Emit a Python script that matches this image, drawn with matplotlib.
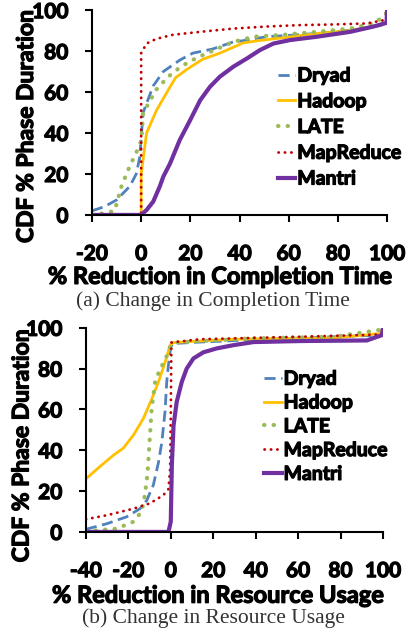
import matplotlib
matplotlib.use('Agg')
import matplotlib.pyplot as plt
import matplotlib.patheffects as pe

plt.rcParams['axes.unicode_minus'] = False

# (a) change in completion time
a_dryad_x = [-20, -15, -10, -4.6, -2, -0.6, 0.8, 4.9, 9, 15.7, 21, 29, 37.5, 41, 51, 64.6, 80, 90, 99.8, 100]
a_dryad_y = [2, 4, 7.3, 14, 20, 28, 50, 63, 70, 75.6, 79, 81, 84.5, 85, 87, 88, 89.5, 91, 93, 100]
a_hadoop_x = [-20, 0, 0, 2.2, 6.2, 11, 14, 18.5, 25, 32, 41.5, 47, 59, 71.5, 85, 97, 99.8, 100]
a_hadoop_y = [0, 0, 20, 40, 51, 61, 67, 71, 76, 79, 84, 85, 86.7, 88.6, 90, 92.7, 94, 100]
a_late_x = [-20, -14.2, -10.8, -8, -5.3, -2.6, -0.6, 0.1, 0.8, 2.8, 6, 11, 15.7, 19.8, 25, 30.7, 37.5, 45.6, 58, 71.4, 85, 94.5, 99.3, 100]
a_late_y = [0, 1, 2, 14, 22, 29, 34, 37, 50, 54, 61, 67.5, 72, 75, 78, 81, 84.5, 87, 88, 89.4, 91, 93.5, 97.5, 100]
a_mr_x = [-20, 0, 0, 2.2, 6.2, 13, 24, 37.5, 51, 64.6, 78, 91.6, 98.4, 100]
a_mr_y = [0, 0, 79, 83.7, 86, 88, 89.4, 91, 92, 92.7, 93, 93.5, 95, 97]
a_mantri_x = [-20, 0, 2.2, 4.9, 7.6, 9, 11.7, 15.7, 19.8, 24, 28, 32, 37.5, 43, 48.3, 53.8, 60.6, 71.4, 85, 94.5, 99.8, 100]
a_mantri_y = [0, 0, 2.4, 6.5, 14, 18.7, 25, 36.6, 46, 56, 62.6, 67.5, 72.4, 76.4, 80.5, 83.7, 85.4, 87, 89.4, 92, 93.8, 100]

# (b) change in resource usage
b_dryad_x = [-40, -30.2, -20.8, -14.5, -11.3, -8.2, -5.8, -4.2, -2.7, -1.9, -1.1, 0, 1.3, 13.8, 45, 98.8, 100]
b_dryad_y = [1.3, 4, 7.4, 11.4, 15.5, 23, 34, 44, 59, 73.5, 81.7, 90.7, 92.3, 93, 94.4, 96.4, 100]
b_hadoop_x = [-40, -33.4, -27, -22.4, -17.6, -12.9, -9, -5.8, -2.7, -0.3, 1.3, 29.6, 76.7, 98.8, 100]
b_hadoop_y = [26, 32, 37.6, 41, 47.4, 55.6, 65, 73.5, 83, 91.5, 92.8, 94.4, 95, 97.2, 100]
b_late_x = [-40, -25.5, -17.6, -13.7, -12.2, -11, -10, -9, -7.4, -5, -2.7, -0.3, 2.8, 37.4, 76.7, 98.8, 100]
b_late_y = [0.3, 1.6, 5, 10, 18, 28, 44, 60.5, 73.5, 80, 84, 90.7, 92.8, 94.8, 95.6, 99, 100]
b_mr_x = [-40, -30, -17.6, -9.8, -3.5, -1.1, -0.3, 0, 0.3, 13.8, 61, 98.8, 100]
b_mr_y = [6.2, 8.2, 11.4, 14, 18, 21, 31, 57, 92.8, 94.4, 95.6, 96.7, 97]
b_mantri_x = [-40, -1.1, 0, 0.5, 1.3, 2.8, 5.2, 7.5, 10.7, 15.4, 21.7, 29.6, 39, 61, 92.4, 99.5, 100]
b_mantri_y = [0, 0, 5, 32.7, 52, 63.7, 73.5, 80, 85, 88, 89.9, 91.5, 93, 93.5, 93.8, 96.4, 100]

names = ['Dryad', 'Hadoop', 'LATE', 'MapReduce', 'Mantri']

bold = 'Lato'
# thicken strokes a little, the original font is heavier than Lato Bold
thick = [pe.withStroke(linewidth=0.9, foreground='black')]

fig = plt.figure(figsize=(4.07, 6.34), dpi=100)

def draw(ax, series, xmin, xticks, xlabel, caption, leg_anchor, spacing, cap_x, xl_pos, yl_pos):
    styles = [
        dict(color='#4F81BD', lw=2, dashes=(4, 2)),
        dict(color='#FFC000', lw=2, ls='-'),
        dict(color='#9BBB59', lw=3, ls=(0, (0.1, 2.2)), dash_capstyle='round'),
        dict(color='#C00000', lw=2, ls=(0, (0.1, 2.2)), dash_capstyle='round'),
        dict(color='#7030A0', lw=3, ls='-'),
    ]
    for (x, y), nm, st in zip(series, names, styles):
        ax.plot(x, y, label=nm, **st)
    ax.set_xlim(xmin, 100)
    ax.set_ylim(0, 100)
    ax.set_xticks(xticks)
    ax.set_yticks([0, 20, 40, 60, 80, 100])
    for s in ['top', 'right']:
        ax.spines[s].set_visible(False)
    for s in ['left', 'bottom']:
        ax.spines[s].set_linewidth(1.5)
    ax.tick_params(length=5, width=1.5, labelsize=15)
    ax.tick_params(axis='x', pad=16)
    ax.tick_params(axis='y', pad=12)
    for t in ax.get_xticklabels() + ax.get_yticklabels():
        t.set_fontfamily(bold)
        t.set_fontweight('bold')
        t.set_path_effects(thick)
    ax.set_ylabel('CDF % Phase Duration', fontsize=16.5, fontweight='bold', family=bold,
                  path_effects=thick)
    ax.set_xlabel(xlabel, fontsize=17, fontweight='bold', family=bold,
                  path_effects=thick)
    ax.xaxis.set_label_coords(*xl_pos)
    ax.yaxis.set_label_coords(*yl_pos)
    ax.xaxis.label.set_va('center')
    ax.yaxis.label.set_va('center')
    leg = ax.legend(loc='upper left', bbox_to_anchor=leg_anchor, frameon=False,
                    borderaxespad=0, borderpad=0,
                    handlelength=0.9, handletextpad=0.1, labelspacing=spacing,
                    prop=dict(family=bold, weight='bold', size=14))
    for t in leg.get_texts():
        t.set_path_effects(thick)
    ax.text(cap_x, -0.375, caption, transform=ax.transAxes, ha='center', va='top',
            fontsize=15.5, family='Liberation Serif', color='#333333')

ax1 = fig.add_axes([0.226, 0.661, 0.725, 0.323])
draw(ax1, [(a_dryad_x, a_dryad_y), (a_hadoop_x, a_hadoop_y), (a_late_x, a_late_y),
           (a_mr_x, a_mr_y), (a_mantri_x, a_mantri_y)],
     -20, [-20, 0, 20, 40, 60, 80, 100], '% Reduction in Completion Time',
     '(a) Change in Completion Time', (0.63, 0.72), 0.45, 0.41,
     (0.434, -0.30), (-0.222, 0.43))

ax2 = fig.add_axes([0.211, 0.161, 0.730, 0.322])
draw(ax2, [(b_dryad_x, b_dryad_y), (b_hadoop_x, b_hadoop_y), (b_late_x, b_late_y),
           (b_mr_x, b_mr_y), (b_mantri_x, b_mantri_y)],
     -40, [-40, -20, 0, 20, 40, 60, 80, 100], '% Reduction in Resource Usage',
     '(b) Change in Resource Usage', (0.60, 0.79), 0.35, 0.43,
     (0.445, -0.31), (-0.215, 0.42))

fig.savefig('out.png', dpi=100)
